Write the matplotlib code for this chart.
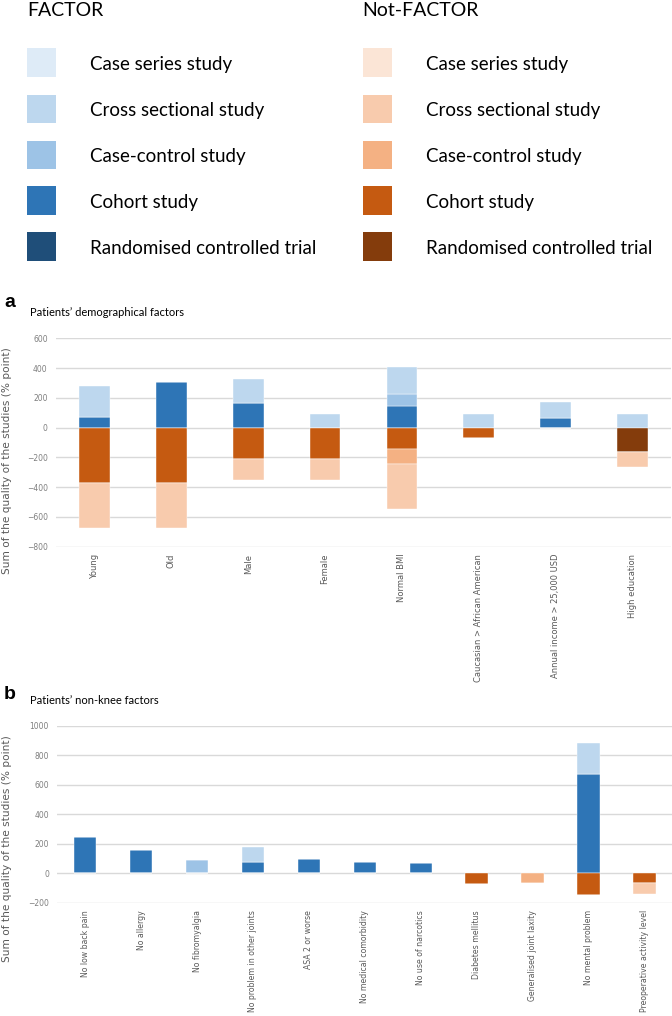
import numpy as np
import matplotlib
matplotlib.use("Agg")
import matplotlib.pyplot as plt
from matplotlib.patches import Rectangle

# ---------------------------------------------------------------------------
# Data (sum of study quality, % point)
# ---------------------------------------------------------------------------
STUDY_TYPES = ["Case series study", "Cross sectional study", "Case-control study",
               "Cohort study", "Randomised controlled trial"]

cats_a = ["Young", "Old", "Male", "Female", "Normal BMI",
          "Caucasian > African American", "Annual income > 25,000 USD",
          "High education"]
a_factor_cohort = [70, 305, 165, 0, 145, 0, 67, 0]
a_factor_casecontrol = [0, 0, 0, 0, 80, 0, 0, 0]
a_factor_cross = [210, 0, 160, 94, 182, 90, 103, 93]
a_not_rct = [0, 0, 0, 0, 0, 0, 0, -164]
a_not_cohort = [-370, -370, -208, -208, -145, -69, 0, 0]
a_not_casecontrol = [0, 0, 0, 0, -98, 0, 0, 0]
a_not_cross = [-305, -305, -145, -145, -304, 0, 0, -102]

cats_b = ["No low back pain", "No allergy", "No fibromyalgia",
          "No problem in other joints", "ASA 2 or worse",
          "No medical comorbidity", "No use of narcotics",
          "Diabetes mellitus", "Generalised joint laxity",
          "No mental problem", "Preoperative activity level"]
b_factor_cohort = [244, 160, 0, 76, 100, 78, 73, 0, 0, 673, 0]
b_factor_casecontrol = [0, 0, 90, 0, 0, 0, 0, 0, 0, 0, 0]
b_factor_cross = [0, 0, 0, 103, 0, 0, 0, 0, 0, 212, 0]
b_not_cohort = [0, 0, 0, 0, 0, 0, 0, -74, 0, -143, -62]
b_not_casecontrol = [0, 0, 0, 0, 0, 0, 0, 0, -65, 0, 0]
b_not_cross = [0, 0, 0, 0, 0, 0, 0, 0, 0, 0, -75]

# ---------------------------------------------------------------------------
# Style
# ---------------------------------------------------------------------------
BLUES = ["#DEEBF7", "#BDD7EE", "#9DC3E6", "#2E75B6", "#1F4E79"]
ORANGES = ["#FBE5D6", "#F8CBAD", "#F4B183", "#C55A11", "#843C0C"]
GRID = "#D9D9D9"
TICK = "#7F7F7F"
LABEL = "#595959"
LEG_FONT = "Lato"

W, H = 672, 1016
fig = plt.figure(figsize=(W / 100, H / 100), dpi=100)


def fx(px):
    return px / W


def fy(py):
    return 1 - py / H


# ---------------------------------------------------------------------------
# Legend (drawn as figure artists)
# ---------------------------------------------------------------------------
fig.text(fx(27), fy(16), "FACTOR", fontsize=14, family=LEG_FONT, va="baseline")
fig.text(fx(362), fy(16), "Not-FACTOR", fontsize=14, family=LEG_FONT, va="baseline")
for i, name in enumerate(STUDY_TYPES):
    top = 48.5 + 46 * i
    for x0, cols, tx in [(26.7, BLUES, 90.5), (363.3, ORANGES, 426.5)]:
        fig.patches.append(Rectangle((fx(x0), fy(top + 28.3)), fx(29), 28.3 / H,
                                     transform=fig.transFigure,
                                     facecolor=cols[i], edgecolor="none"))
        fig.text(fx(tx), fy(top + 21.5), name, fontsize=13.5,
                 family=LEG_FONT, va="baseline")


# ---------------------------------------------------------------------------
# Panels
# ---------------------------------------------------------------------------
def panel(rect, cats, pos_series, neg_series, ylim, step, width, xsize):
    ax = fig.add_axes(rect)
    x = np.arange(len(cats))
    for series in (pos_series, neg_series):
        base = np.zeros(len(cats))
        for vals, color in series:
            v = np.asarray(vals, dtype=float)
            ax.bar(x, v, width, bottom=base, color=color,
                   edgecolor="white", linewidth=0.3, zorder=3)
            base += v
    ax.set_xlim(-0.5, len(cats) - 0.5)
    ax.set_ylim(*ylim)
    ax.set_yticks(np.arange(ylim[0], ylim[1] + 1, step))
    ax.yaxis.grid(True, color=GRID, linewidth=1.0, zorder=0)
    ax.set_axisbelow(True)
    for s in ax.spines.values():
        s.set_visible(False)
    ax.tick_params(axis="y", length=0, pad=6, labelsize=5.5, labelcolor=TICK)
    ax.tick_params(axis="x", length=0, pad=5, labelsize=xsize, labelcolor=LABEL)
    ax.set_xticks(x)
    ax.set_xticklabels(cats, rotation=90, va="top")
    return ax


ax_a = panel([fx(56), fy(546.7), fx(615), (546.7 - 338.3) / H], cats_a,
             [(a_factor_cohort, BLUES[3]), (a_factor_casecontrol, BLUES[2]),
              (a_factor_cross, BLUES[1])],
             [(a_not_rct, ORANGES[4]), (a_not_cohort, ORANGES[3]),
              (a_not_casecontrol, ORANGES[2]), (a_not_cross, ORANGES[1])],
             (-800, 600), 200, 0.40, 6)

ax_b = panel([fx(57.3), fy(903), fx(615), (903 - 725.7) / H], cats_b,
             [(b_factor_cohort, BLUES[3]), (b_factor_casecontrol, BLUES[2]),
              (b_factor_cross, BLUES[1])],
             [(b_not_cohort, ORANGES[3]), (b_not_casecontrol, ORANGES[2]),
              (b_not_cross, ORANGES[1])],
             (-200, 1000), 200, 0.40, 5.6)

# Panel letters and subtitles
fig.text(fx(4), fy(307), "a", fontsize=14, fontweight="bold",
         family="Liberation Sans", va="baseline")
fig.text(fx(30), fy(316.5), "Patients\u2019 demographical factors", fontsize=8,
         family=LEG_FONT, va="baseline")
fig.text(fx(4), fy(699), "b", fontsize=14, fontweight="bold",
         family="Liberation Sans", va="baseline")
fig.text(fx(30), fy(704.5), "Patients\u2019 non-knee factors", fontsize=8,
         family=LEG_FONT, va="baseline")

# Y axis titles
YLAB = "Sum of the quality of the studies (% point)"
fig.text(fx(7), fy(461), YLAB, rotation=90, fontsize=7.6, color=LABEL,
         ha="center", va="center")
fig.text(fx(7), fy(849), YLAB, rotation=90, fontsize=7.6, color=LABEL,
         ha="center", va="center")

fig.savefig("out.png", dpi=100)
